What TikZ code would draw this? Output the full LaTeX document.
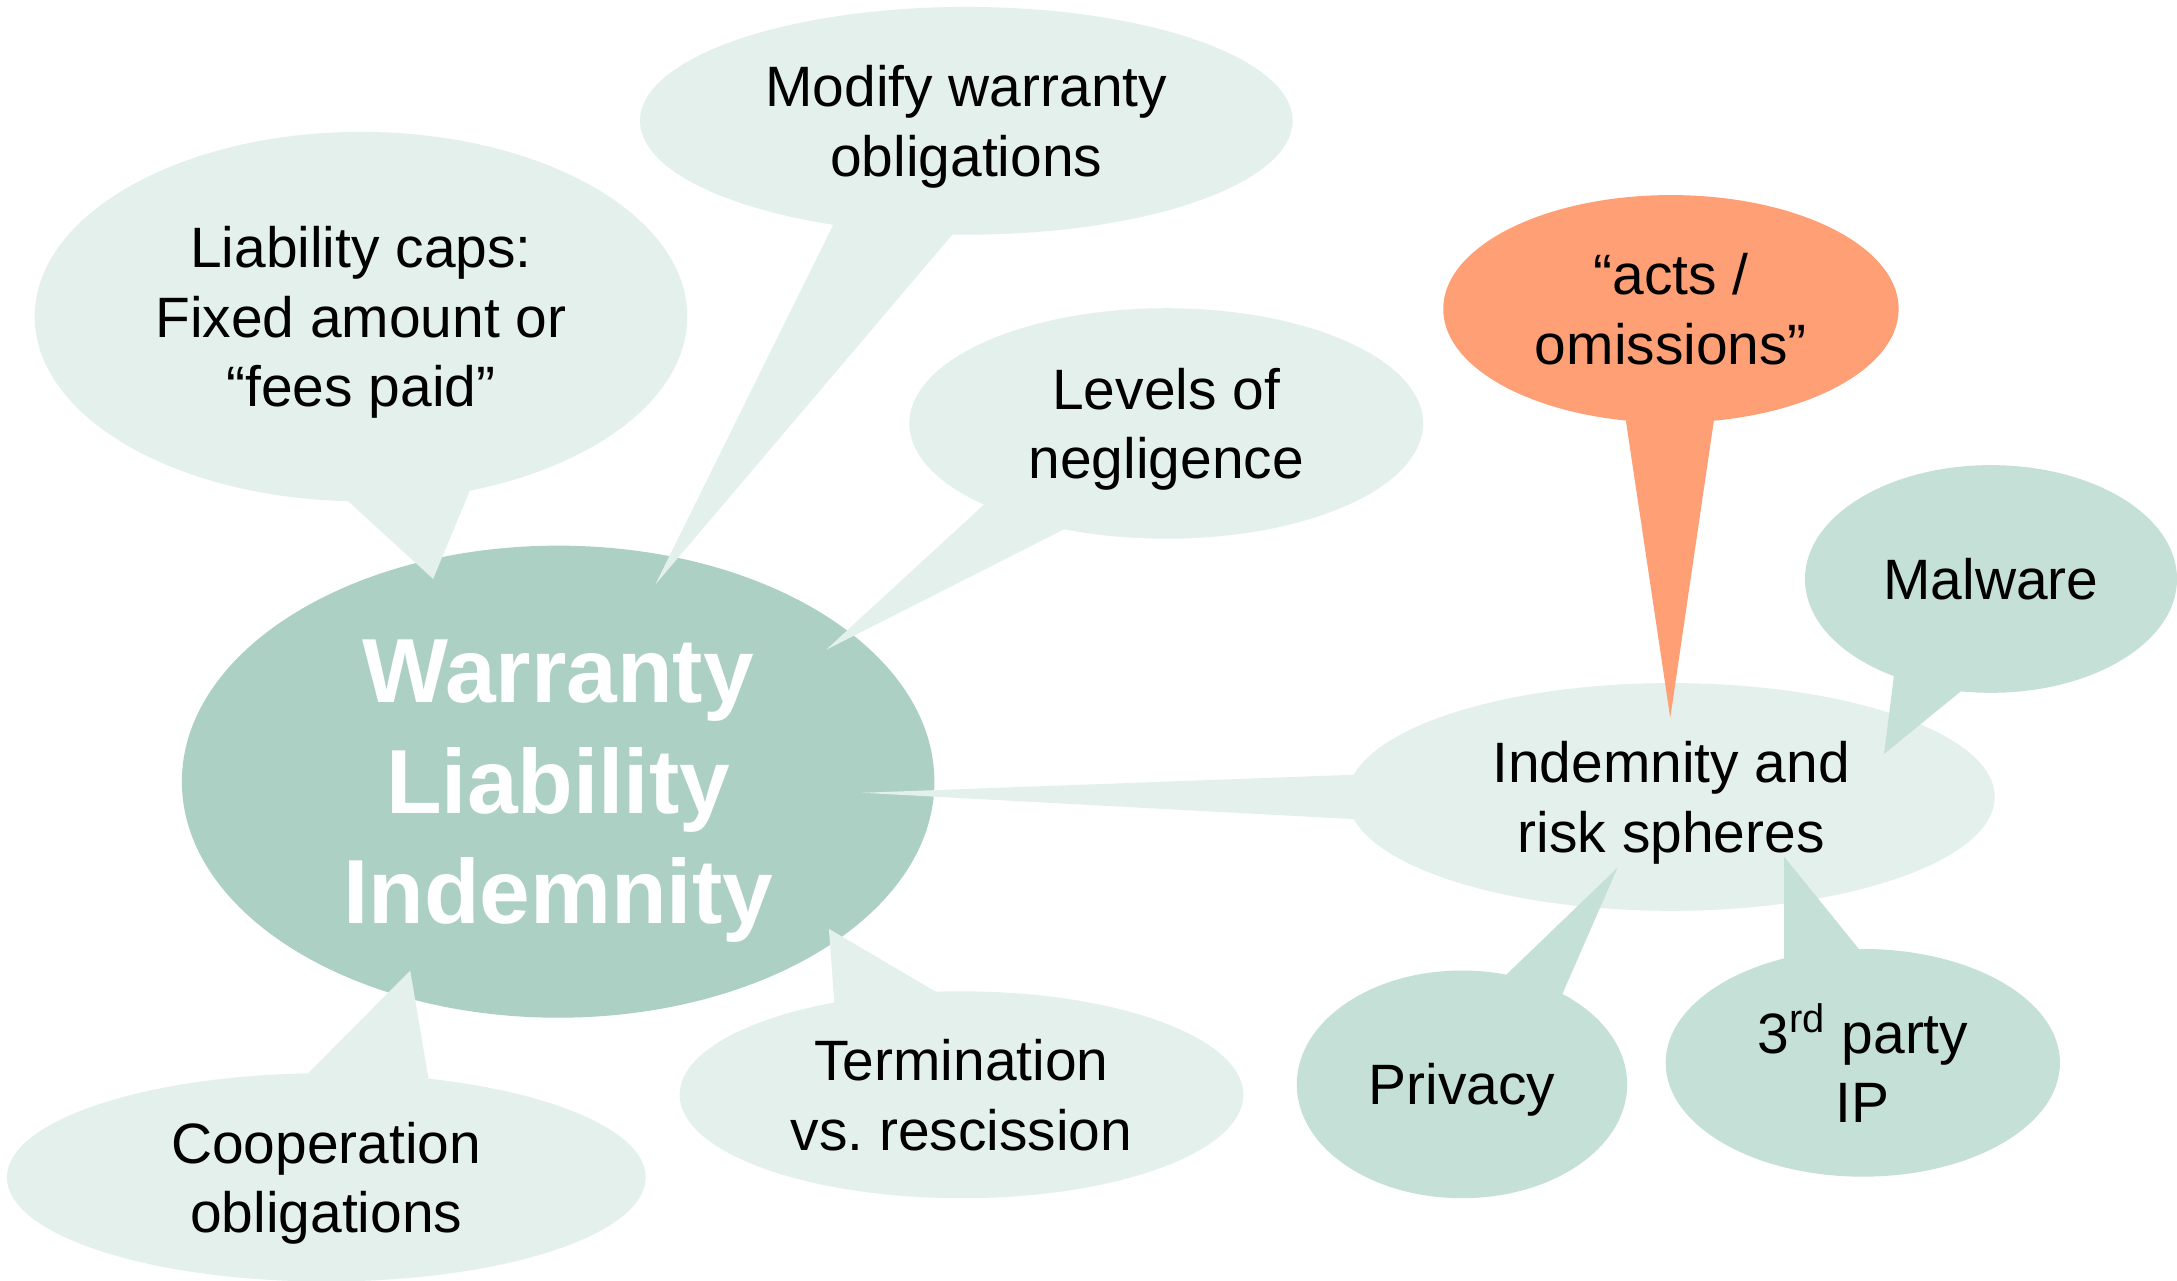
\documentclass[tikz,border=0pt]{standalone}
\usepackage{fontspec}
\setmainfont{Liberation Sans}
\usetikzlibrary{shapes.geometric}
\definecolor{bublight}{RGB}{227,240,235}
\definecolor{bubmain}{RGB}{173,208,197}
\definecolor{bubmid}{RGB}{197,224,214}
\definecolor{buborange}{RGB}{255,159,117}
\tikzset{
  bub/.style={ellipse, inner sep=0pt, outer sep=0pt, align=center, text depth=0pt,
    font=\fontsize{20.5}{25}\selectfont, text=black},
  mainfont/.style={font=\fontsize{32.8}{39.8}\selectfont\bfseries, text=white}
}
\begin{document}
\frenchspacing
\begin{tikzpicture}[x=0.5pt,y=-0.5pt]
\useasboundingbox (0,0) rectangle (1568,922);
\clip (0,0) rectangle (1568,922);
\fill[white] (0,0) rectangle (1568,922);

% central bubble
\node[bub, mainfont, fill=bubmain, minimum width=271pt, minimum height=170pt] (main) at (402,563) {Warranty\\Liability\\Indemnity};

% light callouts
\node[bub, fill=bublight, minimum width=235pt, minimum height=133pt] (caps) at (260,228) {Liability caps:\\Fixed amount or\\“fees paid”};
\coordinate (capsTip) at (312,417);
\fill[bublight] (caps.266) -- (capsTip) -- (caps.302.6) -- cycle;

\node[bub, fill=bublight, minimum width=235pt, minimum height=82pt] (modify) at (696,87) {Modify warranty\\obligations};
\coordinate (modifyTip) at (472,421);
\fill[bublight] (modify.218) -- (modifyTip) -- (modify.263.7) -- cycle;

\node[bub, fill=bublight, minimum width=185pt, minimum height=83pt] (levels) at (840,305) {Levels of\\negligence};
\coordinate (levelsTip) at (595,468);
\fill[bublight] (levels.204.4) -- (levelsTip) -- (levels.226.9) -- cycle;

\node[bub, fill=bublight, minimum width=230pt, minimum height=75pt] (coop) at (235,848) {Cooperation\\obligations};
\coordinate (coopTip) at (295.5,699);
\fill[bublight] (coop.100.6) -- (coopTip) -- (coop.44) -- cycle;

\node[bub, fill=bublight, minimum width=203pt, minimum height=74.5pt] (term) at (692.5,788.5) {Termination\\vs. rescission};
\coordinate (termTip) at (597,669);
\fill[bublight] (term.144.6) -- (termTip) -- (term.104.7) -- cycle;

\node[bub, fill=bublight, minimum width=233pt, minimum height=82pt] (indem) at (1203.7,574) {Indemnity and\\risk spheres};
\coordinate (indemTip) at (621,571);
\fill[bublight] (indem.176) -- (indemTip) -- (indem.184) -- cycle;

% orange and mid callouts
\node[bub, fill=buborange, minimum width=164pt, minimum height=82pt] (acts) at (1203.5,222.5) {“acts /\\omissions”};
\coordinate (actsTip) at (1203,517);
\fill[buborange] (acts.248.9) -- (actsTip) -- (acts.291.1) -- cycle;

\node[bub, fill=bubmid, minimum width=134pt, minimum height=82pt] (malware) at (1434,417) {Malware};
\coordinate (malwareTip) at (1357,543);
\fill[bubmid] (malware.225.2) -- (malwareTip) -- (malware.255.8) -- cycle;

\node[bub, fill=bubmid, minimum width=119pt, minimum height=82pt] (privacy) at (1053,781) {Privacy};
\coordinate (privacyTip) at (1165,625);
\fill[bubmid] (privacy.68.6) -- (privacyTip) -- (privacy.42.3) -- cycle;

\node[bub, fill=bubmid, minimum width=142pt, minimum height=82pt] (third) at (1341.7,765.5) {3\textsuperscript{rd} party\\IP};
\coordinate (thirdTip) at (1285,617);
\fill[bubmid] (third.127.2) -- (thirdTip) -- (third.92.9) -- cycle;
\end{tikzpicture}
\end{document}
